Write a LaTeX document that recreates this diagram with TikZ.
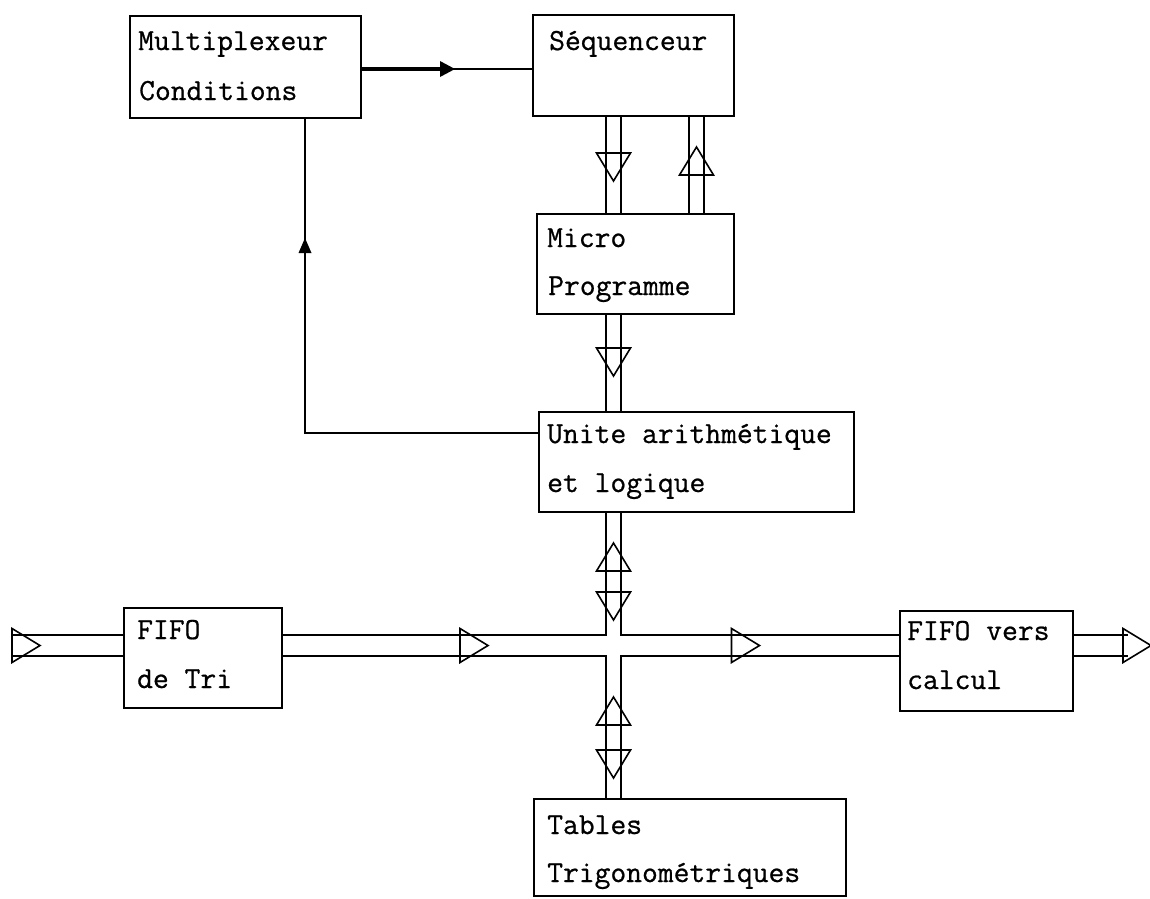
\documentclass[tikz,border=0pt]{standalone}
\usepackage{fontspec}
\newfontfamily\typew{Latin Modern Mono}[FakeBold=0.7]
\begin{document}
\begin{tikzpicture}[x=1pt,y=-1pt,
  box/.style={draw, line width=1.8pt, inner sep=0pt, anchor=north west},
  lbl/.style={anchor=base west, inner sep=0pt, font=\fontsize{30.7}{36}\selectfont\typew},
  bus/.style={line width=1.5pt},
  ctl/.style={line width=3.6pt},
  ctlthin/.style={line width=2.6pt},
  fb/.style={line width=1.4pt},
  tridn/.pic={\draw[line width=1.6pt, line join=miter] (-17,-14) -- (17,-14) -- (0,14) -- cycle;},
  triup/.pic={\draw[line width=1.6pt, line join=miter] (-17,14) -- (17,14) -- (0,-14) -- cycle;},
  trirt/.pic={\draw[line width=1.6pt, line join=miter] (-14,-17) -- (-14,17) -- (14,0) -- cycle;},
  headrt/.pic={\fill (-7,-8) -- (-7,8) -- (8,0) -- cycle;},
  headup/.pic={\fill (-6.5,7) -- (6.5,7) -- (0,-8) -- cycle;}
]
\useasboundingbox (0,0) rectangle (1150,898);
\fill[white] (0,0) rectangle (1150,898);

% boxes
\node[box, minimum width=231pt, minimum height=102pt] (mux) at (129,15) {};
\node[box, minimum width=201pt, minimum height=101pt] (seq) at (532,14) {};
\node[box, minimum width=197pt, minimum height=100pt] (micro) at (536,213) {};
\node[box, minimum width=315pt, minimum height=100pt] (ual) at (538,411) {};
\node[box, minimum width=158pt, minimum height=100pt] (fifoin) at (123,607) {};
\node[box, minimum width=173pt, minimum height=100pt] (fifoout) at (899,610) {};
\node[box, minimum width=312pt, minimum height=97pt] (tables) at (533,798) {};

% labels
\node[lbl] (mux1) at (138,50) {Multiplexeur};
\node[lbl] (mux2) at (139,100) {Conditions};
\node[lbl] (seq1) at (549,50) {Séquenceur};
\node[lbl] (mic1) at (547,247) {Micro};
\node[lbl] (mic2) at (548,295) {Programme};
\node[lbl] (ual1) at (547,443) {Unite arithmétique};
\node[lbl] (ual2) at (547,492) {et logique};
\node[lbl] (fin1) at (137,639) {FIFO};
\node[lbl] (fin2) at (137,688) {de Tri};
\node[lbl] (fou1) at (907,640) {FIFO vers};
\node[lbl] (fou2) at (907,689) {calcul};
\node[lbl] (tab1) at (547,834) {Tables};
\node[lbl] (tab2) at (547,882) {Trigonométriques};

% helper coordinates
\coordinate (vl) at (606,0);
\coordinate (vr) at (621,0);
\coordinate (ul) at (689,0);
\coordinate (ur) at (704,0);
\coordinate (ht) at (0,635);
\coordinate (hb) at (0,656);
\coordinate (ym) at (0,69);
\coordinate (mh) at (447,69);
\coordinate (xf) at (305,0);
\coordinate (yf) at (0,433);
\coordinate (inl) at (12,0);
\coordinate (outr) at (1128,0);

% Multiplexeur -> Sequenceur
\draw[ctl] (mux.east |- ym) -- (mh);
\draw[ctlthin] (mh) -- (seq.west |- ym);
\pic at (mh) {headrt};

% UAL -> Multiplexeur (feedback)
\draw[fb] (ual.west |- yf) -| (mux.south -| xf);
\pic at (305,246) {headup};

% Sequenceur <-> Micro Programme
\draw[bus] (seq.south -| vl) -- (micro.north -| vl);
\draw[bus] (seq.south -| vr) -- (micro.north -| vr);
\pic at (613.5,167) {tridn};
\draw[bus] (seq.south -| ul) -- (micro.north -| ul);
\draw[bus] (seq.south -| ur) -- (micro.north -| ur);
\pic at (696.5,161) {triup};

% Micro Programme -> UAL
\draw[bus] (micro.south -| vl) -- (ual.north -| vl);
\draw[bus] (micro.south -| vr) -- (ual.north -| vr);
\pic at (613.5,362) {tridn};

% crossing
\draw[bus] (ual.south -| vl) -- (vl |- ht) -- (fifoin.east |- ht);
\draw[bus] (ual.south -| vr) -- (vr |- ht) -- (fifoout.west |- ht);
\draw[bus] (tables.north -| vl) -- (vl |- hb) -- (fifoin.east |- hb);
\draw[bus] (tables.north -| vr) -- (vr |- hb) -- (fifoout.west |- hb);
\pic at (613.5,557) {triup};
\pic at (613.5,606) {tridn};
\pic at (613.5,711) {triup};
\pic at (613.5,764) {tridn};
\pic at (474,645.5) {trirt};
\pic at (745.5,645.5) {trirt};

% input
\draw[bus] (inl |- ht) -- (fifoin.west |- ht);
\draw[bus] (inl |- hb) -- (fifoin.west |- hb);
\pic at (26,645.5) {trirt};

% output
\draw[bus] (fifoout.east |- ht) -- (outr |- ht);
\draw[bus] (fifoout.east |- hb) -- (outr |- hb);
\pic at (1137,645.5) {trirt};
\end{tikzpicture}
\end{document}
